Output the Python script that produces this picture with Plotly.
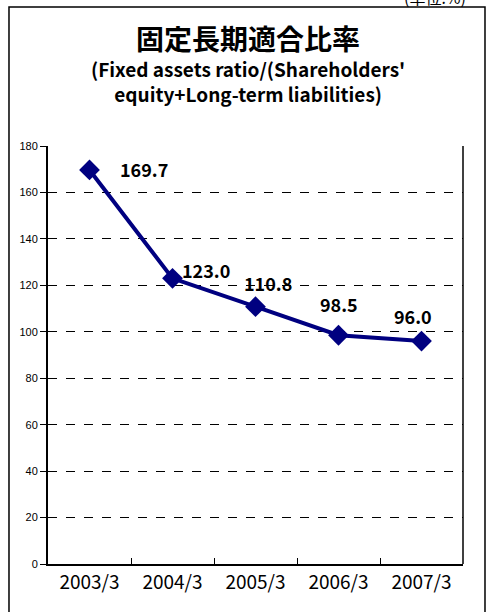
import plotly.graph_objects as go

# data
periods = ["2003/3", "2004/3", "2005/3", "2006/3", "2007/3"]
ratio = [169.7, 123.0, 110.8, 98.5, 96.0]
y_ticks = [0, 20, 40, 60, 80, 100, 120, 140, 160, 180]

title_jp = "固定長期適合比率"
title_en = "(Fixed assets ratio/(Shareholders'<br>equity+Long-term liabilities)"
unit = "(単位:%)"

# label placement per point (pixels)
label_dx = [54, 33, 12, 0, -9]
label_dy = [1, 8, 24, 31, 25]

gothic = "Noto Sans CJK JP"

fig = go.Figure()
fig.add_trace(go.Scatter(
    x=periods, y=ratio, mode="lines+markers",
    line=dict(color="#000080", width=4),
    marker=dict(symbol="diamond", size=16, color="#000080"),
    showlegend=False, cliponaxis=False,
))

for p, v, dx, dy in zip(periods, ratio, label_dx, label_dy):
    fig.add_annotation(
        x=p, y=v, text=f"<b>{v:.1f}</b>", showarrow=False,
        xshift=dx, yshift=dy,
        font=dict(family=gothic, size=18, color="black"),
    )

fig.add_annotation(
    x=0.482, y=1.258, xref="paper", yref="paper", text=f"<b>{title_jp}</b>",
    xanchor="center", yanchor="middle",
    showarrow=False, font=dict(family=gothic, size=28, color="black"),
)
fig.add_annotation(
    x=0.482, y=1.155, xref="paper", yref="paper", text=f"<b>{title_en}</b>",
    xanchor="center", yanchor="middle",
    showarrow=False, font=dict(family=gothic, size=19, color="black"),
)
# unit note, partly above the top edge as in the source
fig.add_annotation(
    x=0.933, y=1.357, xref="paper", yref="paper", text=unit,
    xanchor="center", yanchor="middle",
    showarrow=False, font=dict(family=gothic, size=16, color="black"),
)

# outer frame and right side line of the plot area
fig.add_shape(type="rect", xref="paper", yref="paper",
              x0=-0.094, x1=1.053, y0=-0.3, y1=1.3325,
              line=dict(color="black", width=1.5))
fig.add_shape(type="line", xref="paper", yref="paper",
              x0=1, x1=1, y0=0, y1=1, line=dict(color="black", width=1.5))

fig.update_xaxes(
    type="category", range=[-0.5, 4.5],
    showline=True, linecolor="black", linewidth=2,
    ticks="", showgrid=False,
    tickfont=dict(family=gothic, size=19, color="black"),
    minor=dict(tickvals=[0.5, 1.5, 2.5, 3.5], ticks="inside", ticklen=6,
               tickcolor="black", showgrid=False),
)
fig.update_yaxes(
    range=[0, 180], tickvals=y_ticks,
    showline=True, linecolor="black", linewidth=2,
    ticks="outside", ticklen=6, tickcolor="black",
    showgrid=True, gridcolor="black", griddash="dash", gridwidth=1,
    zeroline=False,
    tickfont=dict(family="Liberation Sans", size=11, color="black"),
)
fig.update_layout(
    width=490, height=612,
    margin=dict(l=48, r=27, t=146, b=48),
    plot_bgcolor="white", paper_bgcolor="white",
)

# drop the default 8px body margin so the figure fills the window
fig.write_html(
    "out.html",
    config={"displayModeBar": False},
    post_script="document.body.style.margin = '0';",
)
